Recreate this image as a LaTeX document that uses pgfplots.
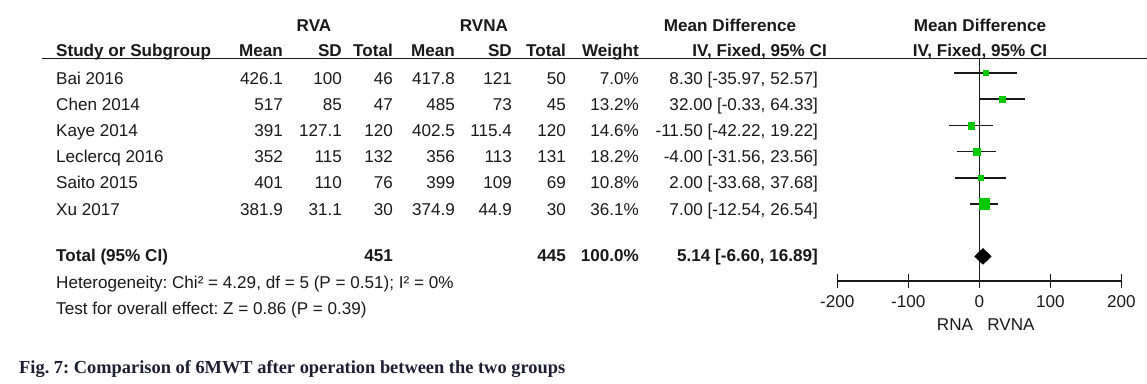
\documentclass[border=0pt]{standalone}
\usepackage{fontspec}
\setmainfont{Liberation Sans}
\newfontfamily\capfont{Liberation Serif}
\usepackage{pgfplots}
\pgfplotsset{compat=1.18}
\usepackage{pgfplotstable}
\frenchspacing
\definecolor{mygreen}{RGB}{0,200,0}
\definecolor{txt}{RGB}{25,25,25}
\definecolor{capc}{RGB}{30,30,50}
\pgfplotstableread{
name y md e s
Bai 8 8.30 44.27 2.5
Chen 7 32.00 32.33 3.2
Kaye 6 -11.50 30.72 3.4
Leclercq 5 -4.00 27.56 3.7
Saito 4 2.00 35.68 2.8
Xu 3 7.00 19.54 5.4
}\studies
\pgfplotstableread{
x y
-6.60 1
5.14 1.305
16.89 1
5.14 0.695
-6.60 1
}\pooled
\newcommand{\fs}{\fontsize{17.1}{20}\selectfont}
\newcommand{\R}[3]{\node[anchor=base east] at (#1pt,-#2pt) {#3};}
\newcommand{\Lf}[3]{\node[anchor=base west] at (#1pt,-#2pt) {#3};}
\newcommand{\Cn}[3]{\node[anchor=base] at (#1pt,-#2pt) {#3};}
\newcommand{\Row}[9]{%
  \R{283}{#1}{#2}\R{342}{#1}{#3}\R{393}{#1}{#4}%
  \R{455}{#1}{#5}\R{512}{#1}{#6}\R{566}{#1}{#7}%
  \R{639}{#1}{#8}\R{818}{#1}{#9}}
\begin{document}
\begin{tikzpicture}[every node/.style={inner sep=0pt, text=txt, font=\fs}]
\useasboundingbox (0pt,0pt) rectangle (1147pt,-383pt);
% headers
\begin{scope}[every node/.append style={font=\fs\bfseries}]
\Cn{314}{31.5}{RVA}
\Cn{484}{31.5}{RVNA}
\Cn{730}{31.5}{Mean Difference}
\Cn{980}{31.5}{Mean Difference}
\Lf{56}{56}{Study or Subgroup}
\R{283}{56}{Mean}\R{342}{56}{SD}\R{393}{56}{Total}
\R{455}{56}{Mean}\R{512}{56}{SD}\R{566}{56}{Total}
\R{639}{56}{Weight}\R{827}{56}{IV, Fixed, 95\% CI}
\Cn{980}{56}{IV, Fixed, 95\% CI}
\end{scope}
\draw[txt, line width=1.4pt] (42pt,-58.5pt) -- (1147pt,-58.5pt);
% study rows
\Lf{56}{84}{Bai 2016}
\Row{84}{426.1}{100}{46}{417.8}{121}{50}{7.0\%}{8.30 [-35.97, 52.57]}
\Lf{56}{110.2}{Chen 2014}
\Row{110.2}{517}{85}{47}{485}{73}{45}{13.2\%}{32.00 [-0.33, 64.33]}
\Lf{56}{136.4}{Kaye 2014}
\Row{136.4}{391}{127.1}{120}{402.5}{115.4}{120}{14.6\%}{-11.50 [-42.22, 19.22]}
\Lf{56}{162.6}{Leclercq 2016}
\Row{162.6}{352}{115}{132}{356}{113}{131}{18.2\%}{-4.00 [-31.56, 23.56]}
\Lf{56}{188.8}{Saito 2015}
\Row{188.8}{401}{110}{76}{399}{109}{69}{10.8\%}{2.00 [-33.68, 37.68]}
\Lf{56}{215}{Xu 2017}
\Row{215}{381.9}{31.1}{30}{374.9}{44.9}{30}{36.1\%}{7.00 [-12.54, 26.54]}
% total
\begin{scope}[every node/.append style={font=\fs\bfseries}]
\Lf{56}{261}{Total (95\% CI)}
\R{393}{261}{451}\R{566}{261}{445}\R{639}{261}{100.0\%}\R{818}{261}{5.14 [-6.60, 16.89]}
\end{scope}
\Lf{56}{288.5}{Heterogeneity: Chi² = 4.29, df = 5 (P = 0.51); I² = 0\%}
\Lf{56}{314}{Test for overall effect: Z = 0.86 (P = 0.39)}
\Cn{955}{330}{RNA}
\Cn{1011}{330}{RVNA}
\node[anchor=base west, text=capc, font=\capfont\bfseries\fontsize{18.4}{21}\selectfont] at (19pt,-373pt) {Fig. 7: Comparison of 6MWT after operation between the two groups};
\begin{axis}[
  at={(837.3pt,-281pt)}, anchor=south west,
  scale only axis, width=284pt, height=223pt,
  xmin=-200, xmax=200, ymin=0.061, ymax=8.5725,
  axis x line*=bottom, axis y line=none,
  axis line style={line width=1.3pt, txt, -},
  xtick={-200,-100,0,100,200}, xticklabels={-200,-100,0,100,200},
  major tick length=14pt, tick align=center,
  xtick style={line width=1.3pt, txt},
  xticklabel style={font=\fs, anchor=base, yshift=-19pt, text=txt, inner sep=0pt},
  clip=false,
]
\addplot[txt, line width=1.2pt, mark=none] coordinates {(0,0.061) (0,8.5725)};
\addplot[only marks, mark=none, error bars/.cd, x dir=both, x explicit, error mark=none,
  error bar style={draw=txt, line width=1.7pt}]
  table[x=md, y=y, x error=e] {\studies};
\addplot[scatter, only marks, mark=square*,
  scatter/use mapped color={draw=mygreen, fill=mygreen},
  visualization depends on={\thisrow{s} \as \ms},
  scatter/@pre marker code/.append style={/tikz/mark size=\ms pt}]
  table[x=md, y=y] {\studies};
\addplot[fill=black, draw=black, mark=none] table[x=x, y=y] {\pooled};
\end{axis}
\end{tikzpicture}
\end{document}
